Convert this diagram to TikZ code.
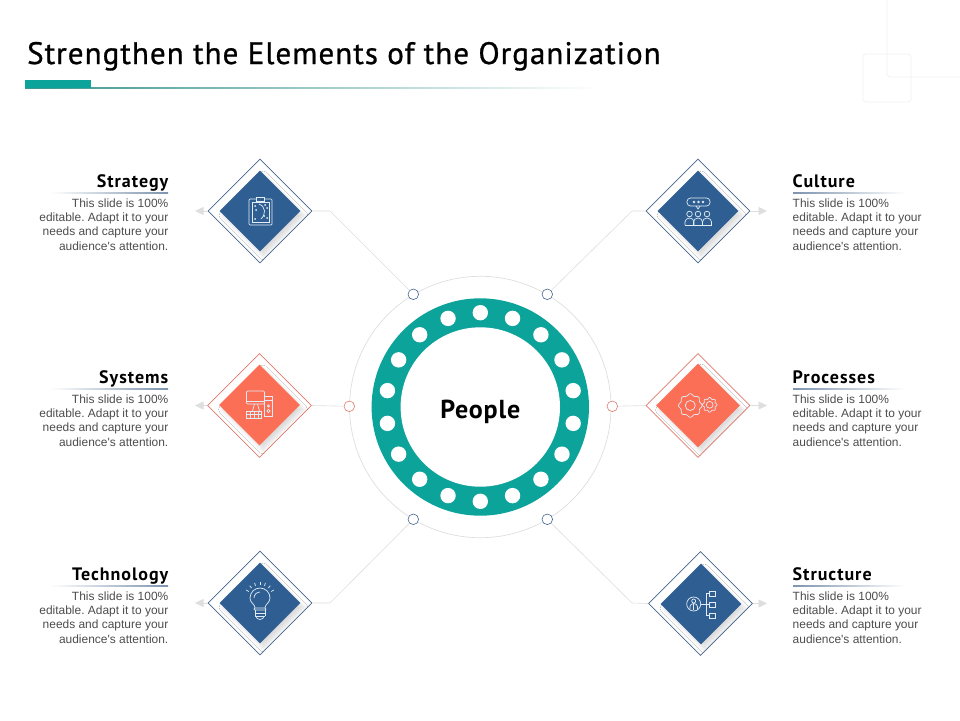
\documentclass[tikz,border=0pt]{standalone}
\usepackage{fontspec}
\setmainfont{Liberation Sans}
\newfontfamily\bodyfont{Liberation Sans}
\newfontfamily\titlefont[LetterSpace=3.4,FakeBold=0.9]{PT Sans}
\newfontfamily\headfont[LetterSpace=5.5]{PT Sans}
\newfontfamily\centerfont[LetterSpace=3.2]{PT Sans}
\usetikzlibrary{shapes.geometric,arrows.meta,shadows.blur}

\definecolor{ringteal}{HTML}{0BA39A}
\definecolor{boxblue}{HTML}{2F5F92}
\definecolor{boxred}{HTML}{FB6F57}
\definecolor{edgeblue}{HTML}{45658C}
\definecolor{edgered}{HTML}{E27B6D}
\definecolor{softline}{HTML}{DEDEDE}
\definecolor{icontint}{HTML}{E3ECF5}

\tikzset{
	outerbox/.style={diamond,aspect=1,inner sep=0pt,minimum size=104pt,fill=white,line width=0.7pt},
	innerbox/.style={diamond,aspect=1,inner sep=0pt,minimum size=81pt,
		blur shadow={shadow xshift=3.5pt,shadow yshift=-4.5pt,shadow blur radius=4pt,shadow blur steps=8,shadow opacity=14}},
	smalldot/.style={circle,draw,fill=white,inner sep=0pt,minimum size=10.6pt,line width=0.6pt},
	holedot/.style={circle,fill=white,inner sep=0pt,minimum size=15.4pt},
	linkline/.style={draw=softline,line width=0.6pt},
	headtext/.style={font=\headfont\bfseries\fontsize{18}{20}\selectfont,inner sep=0pt},
	bodytext/.style={font=\bodyfont\frenchspacing\fontsize{11.95}{14.33}\selectfont,text=black!70,inner sep=0pt},
	iconline/.style={draw=icontint,line width=0.7pt},
	boardicon/.pic={
		\draw[iconline,rounded corners=1pt] (-11,-12) rectangle (12,14);
		\draw[iconline] (-8,-9) rectangle (9,11);
		\draw[iconline,fill=boxblue] (-3.5,-14) rectangle (4,-10);
		\draw[iconline] (-1,-7) .. controls (6,-4) and (6,3) .. (1,8);
		\foreach \dx/\dy in {-5/-5,-4/-1,5/-6,7/-3,-5/8,4/5,7/7}
			\fill[icontint] (\dx,\dy) circle (1);
	},
	crowdicon/.pic={
		\draw[iconline,rounded corners=3.5pt] (-11,-13) rectangle (12,-5);
		\draw[iconline] (-2,-5) -- (0,-2) -- (2,-5);
		\foreach \dx in {-4,0.5,5}
			\fill[icontint] (\dx,-9) circle (1.3);
		\foreach \dx in {-8.5,0,9}
		{
			\draw[iconline] (\dx,3) circle (2.8);
			\draw[iconline] (\dx-4.5,14) -- (\dx-4.5,11) arc (180:360:4.5 and 4) -- (\dx+4.5,14);
		}
		\draw[iconline] (-13,14) -- (13.5,14);
	},
	computericon/.pic={
		\draw[iconline,rounded corners=1pt] (-13,-14) rectangle (5,-1);
		\draw[iconline] (-13,-4) -- (5,-4);
		\draw[iconline] (-5,-1) -- (-7,6);
		\draw[iconline] (-2,-1) -- (0,6);
		\draw[iconline] (-13,6) rectangle (2,13);
		\draw[iconline] (-13,9.5) -- (2,9.5);
		\foreach \dx in {-9,-5,-1}
			\draw[iconline] (\dx,6) -- (\dx,13);
		\draw[iconline,fill=boxred] (5,-9) rectangle (13,11);
		\draw[iconline] (5,-5) -- (13,-5);
		\draw[iconline] (9,1) circle (1.2);
		\draw[iconline] (9,6) circle (1.6);
	},
	gearicon/.pic={
		\draw[iconline,smooth] plot[domain=0:355,samples=72] ([shift={(-7.7,0)}]\x:{10.9+0.9*cos(8*\x)}) -- cycle;
		\draw[iconline] (-7.7,0) circle (5);
		\draw[iconline,smooth] plot[domain=0:355,samples=72] ([shift={(11.7,-0.7)}]\x:{6.6+0.8*cos(8*\x)}) -- cycle;
		\draw[iconline] (11.7,-0.7) circle (3.4);
	},
	bulbicon/.pic={
		\draw[iconline] (-5,5) .. controls (-5,1) and (-10,0) .. (-10,-5) arc (180:360:10) .. controls (10,0) and (5,1) .. (5,5);
		\draw[iconline] (-6,-5) arc (180:270:6);
		\draw[iconline,rounded corners=1pt] (-6,5) rectangle (6,7);
		\draw[iconline] (-5,10) -- (5,10);
		\draw[iconline] (-5,13) -- (5,13);
		\draw[iconline] (-5,7) -- (-5,13) (5,7) -- (5,13);
		\draw[iconline] (-4,13) arc (180:0:4 and 3.5);
		\foreach \aa in {-150,-130,-110,-90,-70,-50,-30}
			\draw[iconline] ([shift={(0,-5)}]\aa:13) -- ([shift={(0,-5)}]\aa:16);
	},
	orgicon/.pic={
		\draw[iconline] (-7.3,0) circle (7);
		\draw[iconline] (-7.3,-3) circle (2);
		\draw[iconline] (-11,5) -- (-11,2.5) arc (180:360:3.7 and 3) -- (-3.6,5);
		\draw[iconline] (-7.3,0) -- (-7.3,6);
		\draw[iconline] (-0.3,0) -- (5.3,0);
		\draw[iconline] (8.7,-10.2) -- (5.3,-10.2) -- (5.3,11.7) -- (8.7,11.7);
		\draw[iconline] (5.3,0.8) -- (8.7,0.8);
		\draw[iconline] (8.7,-12.7) rectangle (14,-7.7);
		\draw[iconline] (8.7,-1.7) rectangle (14,3.3);
		\draw[iconline] (8.7,9.3) rectangle (14,14);
	}
}

\begin{document}
\begin{tikzpicture}[x=1pt,y=-1pt,>={Triangle[length=8.5pt,width=8pt]}]
\useasboundingbox (0,0) rectangle (960,720);

% The corner decoration
\draw[black!6,rounded corners=3pt,line width=0.7pt] (863,54) rectangle (911,102);
\draw[black!6,rounded corners=3pt,line width=0.7pt] (887,0) -- (887,77) -- (960,77);

% The title
\node[font=\titlefont\fontsize{31}{36}\selectfont,anchor=base west,inner sep=0pt] (title) at (27,64) {Strengthen the Elements of the Organization};
\shade[left color=ringteal!60!gray,right color=white] (25,87.5) rectangle (600,88.5);
\fill[ringteal] (25,80) rectangle (91,88);

% The rings
\node[circle,draw=softline,line width=0.7pt,inner sep=0pt,minimum size=261.4pt] (outerring) at (480.3,407) {};
\node[circle,fill=ringteal,inner sep=0pt,minimum size=217.4pt] (ring) at (480.3,407) {};
\foreach \a in {10,30,...,350}
{
	\node[holedot] (hole\a) at ([shift={(\a:94.3)}]ring.center) {};
}
\node[circle,fill=white,inner sep=0pt,minimum size=159.4pt,text height=22pt,text depth=0pt,font=\centerfont\bfseries\fontsize{26}{30}\selectfont] (people) at (480.3,407) {People};

% The dots on the outer ring
\node[smalldot,draw=edgeblue] (dotnw) at (413.3,294.3) {};
\node[smalldot,draw=edgeblue] (dotne) at (547.3,294.3) {};
\node[smalldot,draw=edgered] (dotw) at (349.3,406.3) {};
\node[smalldot,draw=edgered] (dote) at (612.3,406.3) {};
\node[smalldot,draw=edgeblue] (dotsw) at (413.3,519.3) {};
\node[smalldot,draw=edgeblue] (dotse) at (547.3,519.3) {};

% The diamonds
\node[outerbox,draw=edgeblue] (strategy) at (260,211) {};
\node[outerbox,draw=edgeblue] (culture) at (698,211) {};
\node[outerbox,draw=edgered] (systems) at (259.5,405.5) {};
\node[outerbox,draw=edgered] (processes) at (698,405.5) {};
\node[outerbox,draw=edgeblue] (technology) at (260,603) {};
\node[outerbox,draw=edgeblue] (structure) at (700.5,603.5) {};

\node[innerbox,fill=boxblue] (strategybox) at (260,211) {};
\node[innerbox,fill=boxblue] (culturebox) at (698,211) {};
\node[innerbox,fill=boxred] (systemsbox) at (259.5,405) {};
\node[innerbox,fill=boxred,minimum size=84pt] (processesbox) at (698,405.5) {};
\node[innerbox,fill=boxblue] (technologybox) at (260,603) {};
\node[innerbox,fill=boxblue] (structurebox) at (701,604) {};

% The icons
\pic at (strategybox.center) {boardicon};
\pic at (culturebox.center) {crowdicon};
\pic at (systemsbox.center) {computericon};
\pic at (processesbox.center) {gearicon};
\pic at (technologybox.center) {bulbicon};
\pic at (structurebox.center) {orgicon};

% The connectors
\coordinate (kneenw) at (330,211);
\coordinate (kneene) at (632,211);
\coordinate (kneesw) at (330,603);
\coordinate (kneese) at (632,603);
\draw[linkline] (strategy.east) -- (kneenw) -- (dotnw);
\draw[linkline] (culture.west) -- (kneene) -- (dotne);
\draw[linkline] (systems.east) -- (dotw);
\draw[linkline] (processes.west) -- (dote);
\draw[linkline] (technology.east) -- (kneesw) -- (dotsw);
\draw[linkline] (structure.west) -- (kneese) -- (dotse);

% The little arrows
\foreach \nm/\yy in {strategy/211,systems/405.5,technology/603}
{
	\coordinate (\nm end) at (195,\yy);
	\draw[->,draw=softline,line width=0.6pt] (\nm.west) -- (\nm end);
}
\foreach \nm/\yy in {culture/211,processes/405.5,structure/603.5}
{
	\coordinate (\nm end) at (767,\yy);
	\draw[->,draw=softline,line width=0.6pt] (\nm.east) -- (\nm end);
}

% The texts
\foreach \nm/\lab/\yy in {strategy/Strategy/211,systems/Systems/407,technology/Technology/604}
{
	\shade[left color=white,right color=edgeblue!70] (50,\yy-18.3) rectangle (168,\yy-17.7);
	\node[headtext,anchor=base east] (\nm head) at (168.5,\yy-24) {\lab};
	\node[bodytext,anchor=north east,align=right] (\nm text) at (168.5,\yy-12.8) {This slide is 100\%\\editable. Adapt it to your\\needs and capture your\\audience's attention.};
}
\foreach \nm/\lab/\yy in {culture/Culture/211,processes/Processes/407,structure/Structure/604}
{
	\shade[left color=edgeblue!70,right color=white] (793,\yy-18.3) rectangle (905,\yy-17.7);
	\node[headtext,anchor=base west] (\nm head) at (792.5,\yy-24) {\lab};
	\node[bodytext,anchor=north west,align=left] (\nm text) at (792.5,\yy-12.8) {This slide is 100\%\\editable. Adapt it to your\\needs and capture your\\audience's attention.};
}

\end{tikzpicture}
\end{document}
